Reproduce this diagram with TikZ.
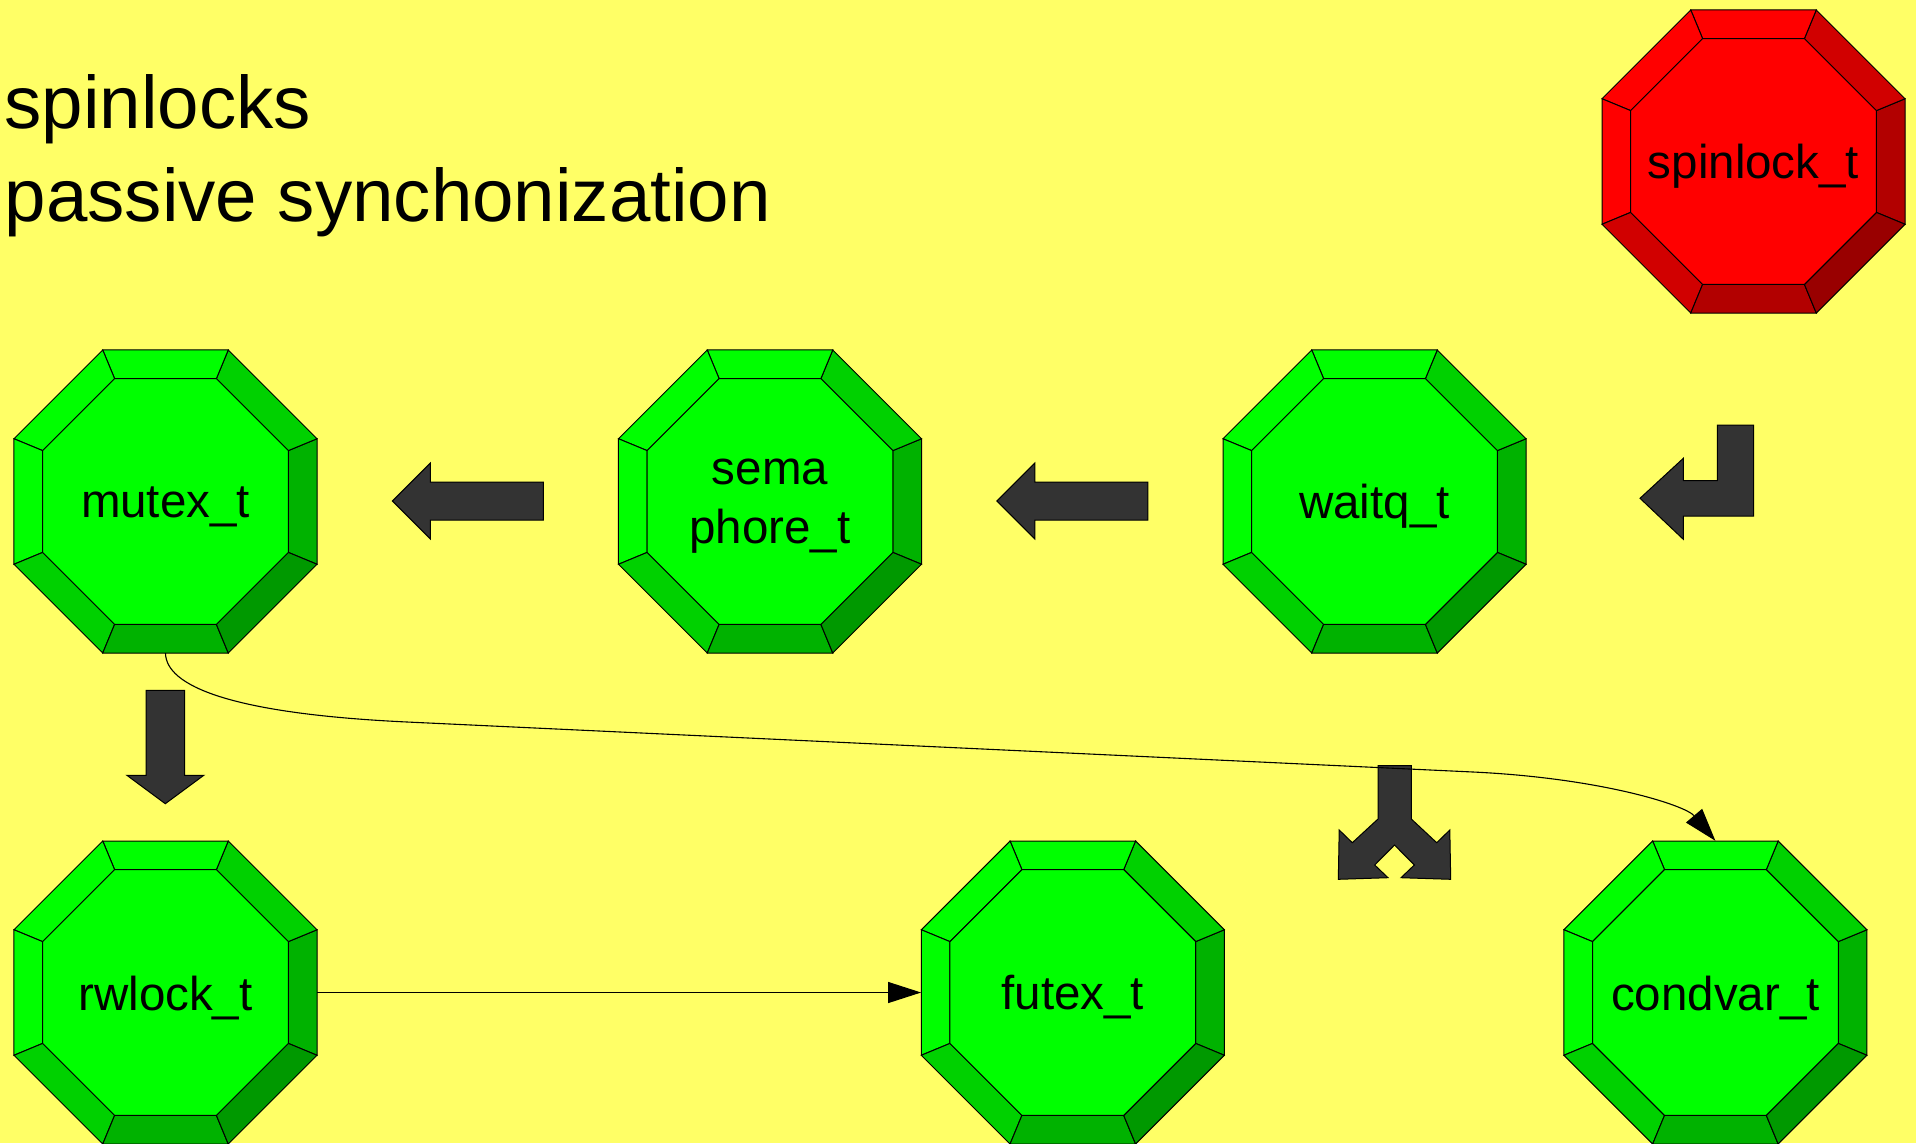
\documentclass[tikz,border=0pt]{standalone}
\usepackage{fontspec}
\setmainfont{Liberation Sans}
\usepackage{xcolor}
\definecolor{bgYellow}{HTML}{FFFF66}
\definecolor{gemGreen}{HTML}{00FF00}
\definecolor{gemRed}{HTML}{FF0000}
\definecolor{arrowGray}{HTML}{333333}
\usepackage{tikz}
\usetikzlibrary{arrows.meta}

\tikzset{
  gemline/.style={draw=black, line width=1pt},
  gem/.style={circle, minimum size=303pt, inner sep=0pt},
  gemtext/.style={inner sep=0pt, align=center, font=\fontsize{47.5}{59}\selectfont},
  blockarrow/.style={fill=arrowGray, draw=black, line width=1pt},
  conn/.style={draw=black, line width=1.1pt, -{Triangle[length=33pt,width=21pt]}},
  title/.style={anchor=base west, inner sep=0pt, font=\fontsize{74.5}{92}\selectfont}
}

% bevelled octagon: name, centre, colour, text
\newcommand{\gemnode}[4]{%
  \begin{scope}[shift={(#2)}]
    \foreach \ang/\pct in {0/70,45/82,90/100,135/100,180/100,225/82,270/70,315/60} {
      \filldraw[gemline, fill=#3!\pct!black] ({\ang-22.5}:164pt) -- ({\ang+22.5}:164pt)
        -- ({\ang+22.5}:133pt) -- ({\ang-22.5}:133pt) -- cycle;
    }
    \filldraw[gemline, fill=#3] (22.5:133pt) \foreach \k in {1,...,7} { -- ({22.5+45*\k}:133pt) } -- cycle;
    \node[gem] (#1) at (0,0) {};
    \node[gemtext] (#1-text) at (0,5) {#4};
  \end{scope}
}

\begin{document}
\begin{tikzpicture}[x=1pt, y=-1pt]
  \useasboundingbox (0,0) rectangle (1916,1143);
  \fill[bgYellow] (0,0) rectangle (1916,1143);

  \node[title] (title1) at (4.5,128.3) {spinlocks};
  \node[title] (title2) at (4.5,221) {passive synchonization};

  \gemnode{spinlock}{1753.5,161.5}{gemRed}{spinlock\_t}
  \gemnode{mutex}{165.5,501.5}{gemGreen}{mutex\_t}
  \gemnode{semaphore}{770,501.5}{gemGreen}{sema\\phore\_t}
  \gemnode{waitq}{1374.5,501.5}{gemGreen}{waitq\_t}
  \gemnode{rwlock}{165.5,992.5}{gemGreen}{rwlock\_t}
  \gemnode{futex}{1072.8,992.5}{gemGreen}{futex\_t}
  \gemnode{condvar}{1715.4,992.5}{gemGreen}{condvar\_t}

  % block arrows
  \foreach \xt in {392.3,996.8} {
    \filldraw[blockarrow] (\xt,501) -- (\xt+38,463) -- (\xt+38,482) -- (\xt+151,482)
      -- (\xt+151,520) -- (\xt+38,520) -- (\xt+38,539) -- cycle;
  }
  \filldraw[blockarrow] (146,690.3) -- (184.7,690.3) -- (184.7,775.3) -- (203.8,775.3)
    -- (165.3,803.7) -- (126.9,775.3) -- (146,775.3) -- cycle;
  \filldraw[blockarrow] (1717.3,425) -- (1753.7,425) -- (1753.7,516) -- (1683.3,516)
    -- (1683.3,539.3) -- (1640,498.3) -- (1683.3,458.3) -- (1683.3,480.7) -- (1717.3,480.7) -- cycle;
  \filldraw[blockarrow] (1378,765.7) -- (1411.3,765.7) -- (1411.3,819) -- (1436.7,842.7)
    -- (1449.8,830) -- (1450.7,879.3) -- (1401,877.7) -- (1414.3,865) -- (1394.5,845)
    -- (1374.7,865) -- (1388,877.7) -- (1338.3,879.3) -- (1339.2,830) -- (1352.3,842.7)
    -- (1378,819) -- cycle;

  % connectors
  \draw[conn] (rwlock.east) -- (futex.west);
  \draw[conn] (mutex.south) .. controls (166,685) and (227,713.5) .. (407,722)
    -- (1473,772) .. controls (1600,778) and (1685,805) .. (condvar.north);
\end{tikzpicture}
\end{document}
